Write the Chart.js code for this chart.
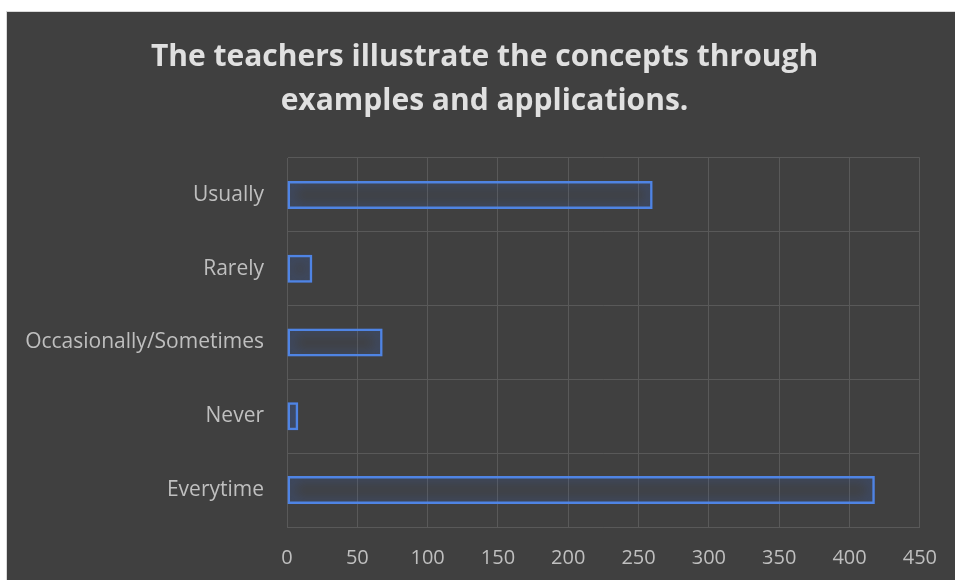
<!DOCTYPE html>
<html>
<head>
<meta charset="utf-8">
<script src="https://cdn.jsdelivr.net/npm/chart.js@4"></script>
<style>
  html, body { margin: 0; padding: 0; background: #ffffff; width: 955px; height: 580px; overflow: hidden; }
  #panel { position: absolute; left: 6px; top: 11px; width: 949px; height: 569px; background: #404040;
           border-left: 1px solid #d9d9d9; border-top: 1px solid #d9d9d9; box-sizing: border-box; }
  #wrap { position: absolute; left: 1px; top: 1px; width: 948px; height: 568px; }
</style>
</head>
<body>
<div id="panel"><div id="wrap"><canvas id="c" width="948" height="568"></canvas></div></div>
<script>
const titleLines = ["The teachers illustrate the concepts through", "examples and applications."];
const categories = ["Everytime", "Never", "Occasionally/Sometimes", "Rarely", "Usually"];
const values = [418, 8, 68, 18, 260];
const xMin = 0, xMax = 450, xStep = 50;

const glowPlugin = {
  id: 'glow',
  beforeDatasetsDraw(chart) {
    const ctx = chart.ctx;
    ctx.save();
    ctx.shadowColor = 'rgba(55,105,215,1)';
    ctx.shadowBlur = 14;
    ctx.shadowOffsetX = 0;
    ctx.shadowOffsetY = 0;
  },
  afterDatasetsDraw(chart) {
    chart.ctx.restore();
  }
};

new Chart(document.getElementById('c'), {
  type: 'bar',
  data: {
    labels: categories,
    datasets: [{
      data: values,
      backgroundColor: 'rgba(0,0,0,0)',
      borderColor: '#4f84e4',
      borderWidth: 2.5,
      borderSkipped: false,
      categoryPercentage: 1,
      barPercentage: 0.38
    }]
  },
  plugins: [glowPlugin],
  options: {
    indexAxis: 'y',
    responsive: false,
    animation: false,
    devicePixelRatio: 1,
    layout: { padding: { left: 5, right: 0, top: 0, bottom: 0 } },
    plugins: {
      legend: { display: false },
      tooltip: { enabled: false },
      title: {
        display: true,
        text: titleLines,
        color: '#e0e0e0',
        font: { family: "'Open Sans', sans-serif", size: 30, weight: 'bold', lineHeight: '44px' },
        padding: { top: 22, bottom: 35 }
      }
    },
    scales: {
      x: {
        type: 'linear',
        min: xMin, max: xMax,
        ticks: { stepSize: xStep, color: '#bfbfbf', padding: 19,
                 font: { family: "'Open Sans', sans-serif", size: 20 } },
        grid: { color: '#595959', lineWidth: 1, drawTicks: false },
        border: { display: true, color: '#595959' },
        afterFit(scale) { scale.height = 54; }
      },
      y: {
        reverse: true,
        ticks: { color: '#bfbfbf', padding: 23,
                 font: { family: "'Open Sans', sans-serif", size: 21 } },
        grid: { color: '#595959', lineWidth: 1, drawTicks: false, offset: true },
        border: { display: true, color: '#595959' },
        afterFit(scale) { scale.width = 274; }
      },
      yRight: {
        type: 'linear',
        axis: 'y',
        position: 'right',
        display: true,
        ticks: { display: false },
        grid: { display: false, drawTicks: false },
        border: { display: false },
        afterFit(scale) { scale.width = 35; }
      }
    }
  }
});
</script>
</body>
</html>
